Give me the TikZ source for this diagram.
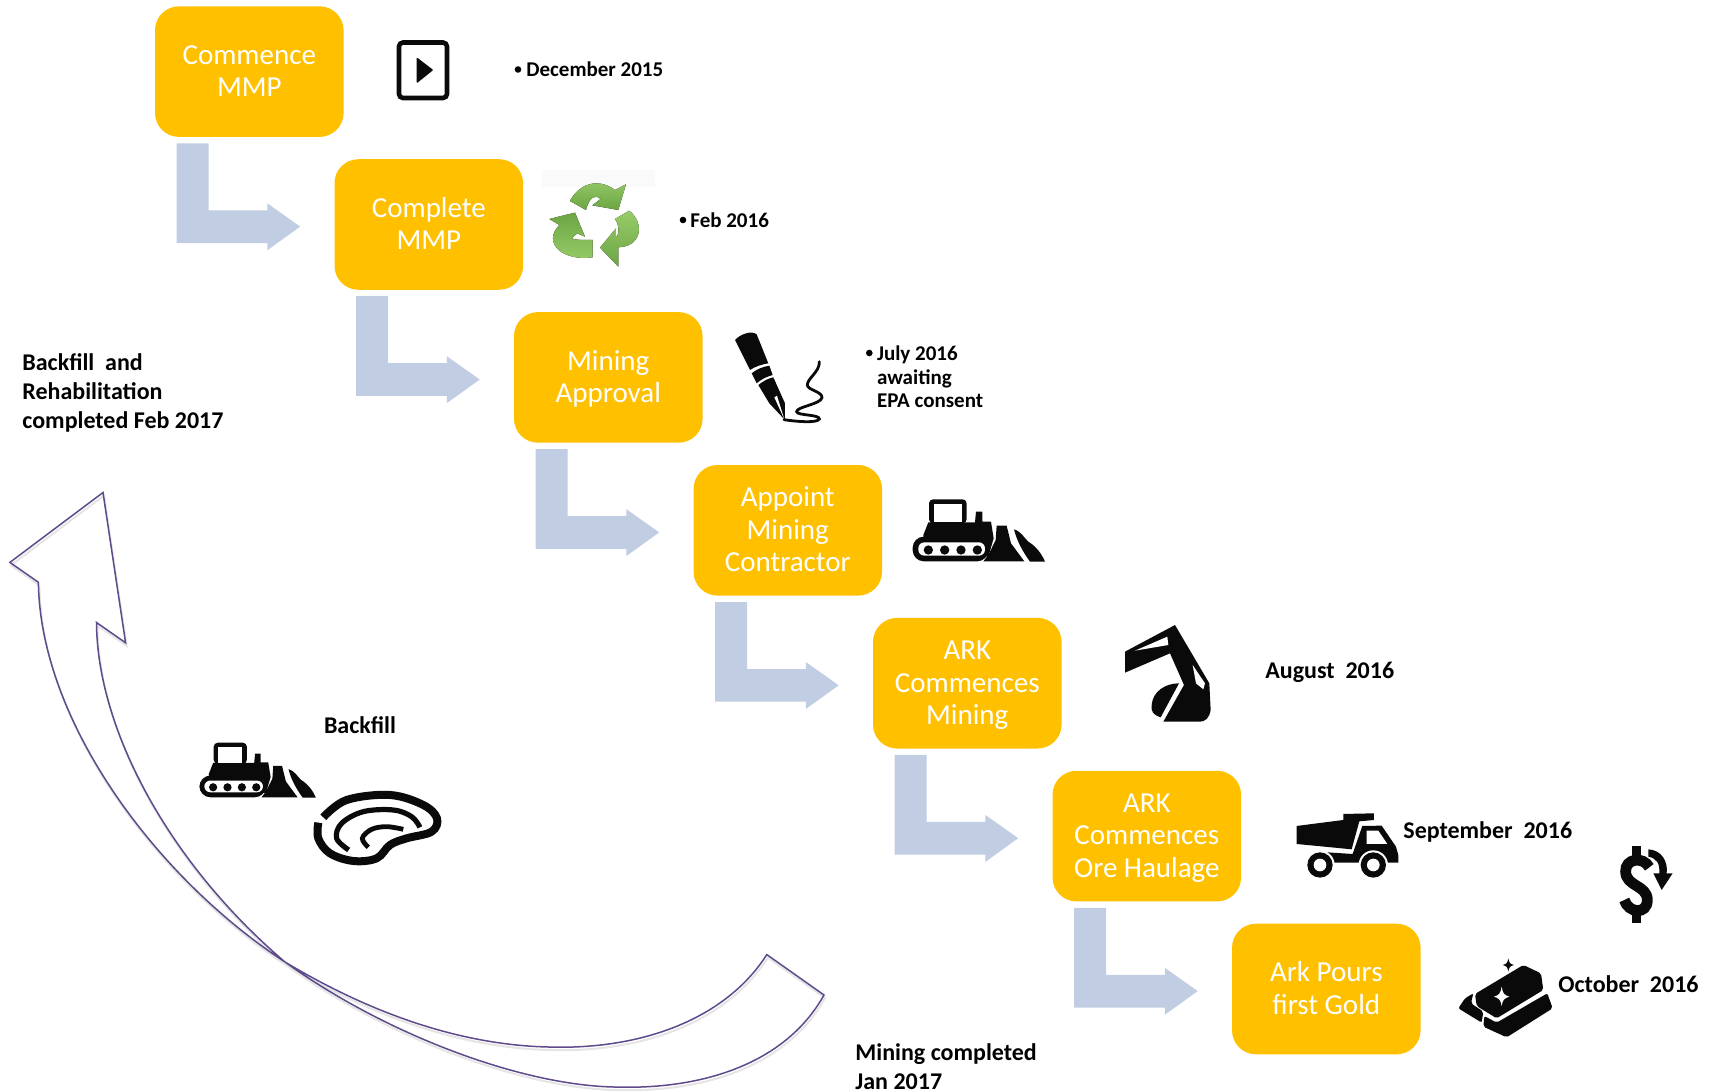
\documentclass[tikz,border=0pt]{standalone}
\usepackage{fontspec}
\setmainfont{Carlito}
\usetikzlibrary{calc}
\definecolor{boxfill}{HTML}{FFC000}
\definecolor{bentfill}{HTML}{C0CDE2}
\definecolor{curveline}{HTML}{5F4B8B}
\definecolor{recA}{HTML}{97CC68}
\definecolor{recB}{HTML}{6DA544}
\definecolor{iconblack}{HTML}{0A0A0A}
\tikzset{
  stepbox/.style={fill=boxfill,rounded corners=12pt,minimum width=94.3pt,minimum height=65.3pt,
    inner sep=0pt,align=center,text=white,font=\fontsize{14.5}{16.2}\selectfont},
  bent/.style={fill=bentfill,draw=none},
  lab/.style={inner sep=0pt,anchor=base west,font=\fontsize{12}{14.5}\bfseries\selectfont,align=left},
  labs/.style={inner sep=0pt,anchor=base west,font=\fontsize{10.5}{11.8}\bfseries\selectfont,align=left},
  bul/.style={circle,fill=black,inner sep=0pt,minimum size=3.3pt},
  ic/.style={fill=iconblack,draw=none},
  zm/.style n args={3}{shift={(#1,#2)},scale=#3},
}
\newcommand{\tl}{\rule{0pt}{11.8pt}}
\newcommand{\bl}{\rule[-3pt]{0pt}{3pt}}
\newcommand{\bentarrow}[1]{%
  \fill[bent,shift={(#1.south west)}] (22,6) -- (54,6) -- (54,73) -- (112.7,73) -- (112.7,66)
    -- (145.6,89.3) -- (112.7,113) -- (112.7,105.7) -- (22,105.7) -- cycle;}
\newcommand{\dozericon}[3]{%
  \begin{scope}[zm={#1}{#2}{#3}]
    \fill[ic] (55,135) -- (70,97) -- (210,97) -- (213,65) -- (232,65) -- (232,95) -- (258,95) -- (266,145) -- (250,200) -- (60,185) -- cycle;
    \fill[ic] (275,107) -- (305,107) -- (318,160) -- (358,214) -- (235,214) -- (250,195) -- (272,150) -- cycle;
    \fill[ic,rounded corners=2pt] (72,28) rectangle (185,100);
    \fill[white] (88,43) rectangle (170,97);
    \fill[ic] (327,118) .. controls (350,125) and (358,145) .. (370,155) .. controls (395,170) and (412,195) .. (420,215)
      -- (375,215) .. controls (350,180) and (335,150) .. (327,118) -- cycle;
    \fill[ic,rounded corners=5.6pt] (23,140) rectangle (250,214);
    \fill[white,rounded corners=3pt] (40,157) rectangle (240,197);
    \foreach \cx in {70,119,168,217} \fill[ic] (\cx,180) circle (14);
  \end{scope}}
\begin{document}
\begin{tikzpicture}[x=0.5pt,y=-0.5pt]
\useasboundingbox (0,0) rectangle (1721,1092);

% step boxes
\node[stepbox] (b1) at (249.3,71.6) {\tl Commence\\MMP\bl};
\node[stepbox] (b2) at (428.8,224.5) {\tl Complete\\MMP\bl};
\node[stepbox] (b3) at (608.3,377.4) {\tl Mining\\Approval\bl};
\node[stepbox] (b4) at (787.8,530.3) {\tl Appoint\\Mining\\Contractor\bl};
\node[stepbox] (b5) at (967.3,683.2) {\tl ARK\\Commences\\Mining\bl};
\node[stepbox] (b6) at (1146.8,836.1) {\tl ARK\\Commences\\Ore Haulage\bl};
\node[stepbox] (b7) at (1326.3,989.0) {\tl Ark Pours\\first Gold\bl};

% bent arrows
\bentarrow{b1}\bentarrow{b2}\bentarrow{b3}\bentarrow{b4}\bentarrow{b5}\bentarrow{b6}

% curved return arrow (twisted): soft shadow, then outline
\def\curvepath{(766.8,954.6) -- (824,995) .. controls (785,1065) and (700,1090) .. (614,1087) .. controls (520,1085) and (385,1034) .. (285,962)
  .. controls (170,864) and (97,730) .. (96.5,622.5)
  -- (125.6,642.8) -- (103,492.5) -- (9.9,562.4) -- (38.4,582.3)
  .. controls (40,720) and (155,877) .. (285,962) .. controls (370,1013) and (460,1045) .. (548.5,1047) .. controls (640,1050) and (725,1020) .. (766.8,954.6)}
\draw[black!10,line width=1pt,shift={(1,3)}] \curvepath;
\draw[curveline,line width=0.75pt,line join=miter] \curvepath -- cycle;

% play icon
\draw[iconblack,line width=2.3pt,rounded corners=2pt] (399,42.5) rectangle (447,98);
\fill[iconblack,rounded corners=0.5pt] (416.7,57.3) -- (433.3,70) -- (416.7,83.3) -- cycle;

% recycle icon
\begin{scope}[zm={370}{20}{0.3333}]
  \fill[black!2] (517,450) rectangle (855,500);
  \fill[top color=recA,bottom color=recB] (600,543) .. controls (625,495) and (680,470) .. (735,510) -- (768,493) -- (745,570) -- (667,556) -- (692,537) .. controls (680,525) and (660,525) .. (648,570) -- cycle;
  \fill[top color=recB,bottom color=recA] (538,597) -- (615,578) -- (645,650) -- (622,640) -- (605,655) .. controls (612,660) and (640,660) .. (668,660) -- (668,712) .. controls (580,725) and (515,670) .. (568,615) -- cycle;
  \fill[top color=recA,bottom color=recB] (778,572) .. controls (825,610) and (815,680) .. (745,682) -- (745,740) -- (690,683) -- (738,625) -- (738,650) .. controls (745,650) and (752,620) .. (735,597) -- cycle;
\end{scope}

% pen icon
\begin{scope}[zm={730}{325}{0.3333}]
  \fill[ic] (15,45) .. controls (30,28) and (65,15) .. (80,28) -- (115,115) .. controls (95,118) and (75,125) .. (60,135) -- cycle;
  \fill[ic] (65,145) .. controls (80,132) and (100,125) .. (118,122) -- (128,150) .. controls (110,155) and (95,162) .. (80,175) -- cycle;
  \fill[ic] (85,180) .. controls (100,168) and (115,160) .. (130,157) -- (165,235) -- (165,285) -- (118,235) -- cycle;
  \fill[white] (133,217) -- (141,212) -- (163,283) -- cycle;
  \draw[iconblack,line width=1.4pt,line cap=round] (268,110) .. controls (270,140) and (232,160) .. (232,180) .. controls (232,195) and (278,200) .. (276,218) .. controls (272,238) and (200,245) .. (200,260) .. controls (200,272) and (270,268) .. (268,282) .. controls (262,295) and (200,290) .. (162,284);
\end{scope}

% bulldozers
\dozericon{905}{490}{0.3333}
\dozericon{192.6}{734.5}{0.2933}

% excavator
\begin{scope}[zm={1110}{620}{0.3333}]
  \fill[ic] (45,95) -- (195,15) -- (298,190) -- (302,270) .. controls (298,295) and (285,305) .. (270,305) -- (160,305) -- (222,195) -- (180,100) -- (45,158) -- cycle;
  \fill[white] (75,92) -- (172,50) -- (175,75) -- cycle;
  \fill[white] (248,135) -- (285,190) -- (280,208) -- (258,190) -- cycle;
  \fill[ic] (125,255) .. controls (128,215) and (165,190) .. (207,190) -- (152,292) .. controls (130,285) and (122,275) .. (125,255) -- cycle;
\end{scope}

% dump truck
\begin{scope}[zm={1110}{620}{0.3333}]
  \fill[ic] (560,618) -- (700,600) -- (700,582) -- (792,580) -- (792,600) -- (748,604) -- (725,688) -- (560,672) -- cycle;
  \fill[ic] (620,695) -- (728,702) -- (757,618) -- (815,617) -- (858,680) -- (865,705) -- (865,728) -- (590,728) -- cycle;
  \fill[white] (770,632) -- (805,632) -- (832,672) -- (770,672) -- cycle;
  \fill[white] (630,735) circle (44) (790,735) circle (44);
  \fill[ic] (630,735) circle (38) (790,735) circle (38);
  \fill[white] (630,735) circle (19) (790,735) circle (19);
\end{scope}

% dollar icon
\begin{scope}[zm={1440}{830}{0.3333}]
  \draw[iconblack,line width=5.4pt] (628,112) .. controls (610,78) and (555,85) .. (557,125) .. controls (558,170) and (622,165) .. (622,210) .. controls (622,255) and (565,250) .. (553,210);
  \fill[ic] (576,48) rectangle (604,85);
  \fill[ic] (576,245) rectangle (604,278);
  \fill[ic] (625,58) .. controls (665,60) and (685,95) .. (680,130) -- (698,130) -- (665,180) -- (640,130) -- (658,130) .. controls (660,100) and (650,85) .. (625,80) -- cycle;
\end{scope}

% gold bars icon
\begin{scope}[zm={1440}{830}{0.3333}]
  \fill[ic,rounded corners=1pt] (105,492) -- (250,405) -- (303,430) -- (310,480) -- (170,565) -- (110,528) -- cycle;
  \fill[ic,rounded corners=1pt] (133,558) -- (170,578) -- (322,490) -- (338,535) -- (200,622) -- (130,590) -- cycle;
  \fill[ic,rounded corners=1pt] (55,535) -- (75,505) -- (100,490) -- (93,520) -- (130,545) -- (125,578) -- cycle;
  \fill[white] (185,470) .. controls (188,490) and (192,495) .. (208,500) .. controls (192,505) and (188,510) .. (185,528) .. controls (182,510) and (178,505) .. (162,500) .. controls (178,495) and (182,490) .. (185,470) -- cycle;
  \fill[ic] (205,385) .. controls (207,398) and (210,402) .. (222,405) .. controls (210,408) and (207,412) .. (205,425) .. controls (203,412) and (200,408) .. (188,405) .. controls (200,402) and (203,398) .. (205,385) -- cycle;
\end{scope}

% strata icon
\begin{scope}[zm={190}{730}{0.3333}]
  \draw[iconblack,line width=4pt,line cap=butt] plot[smooth,tension=.6] coordinates {(400,262) (470,210) (600,195) (700,225) (741,265) (725,305) (650,325) (600,345) (560,385) (490,393) (420,370) (385,325) (385,278)};
  \draw[iconblack,line width=2.6pt] plot[smooth,tension=.6] coordinates {(476,360) (440,325) (455,280) (520,245) (610,240) (665,260) (690,292)};
  \draw[iconblack,line width=2.4pt] plot[smooth,tension=.6] coordinates {(535,352) (517,325) (545,298) (590,290) (640,298)};
\end{scope}

% labels
\node[bul] (d1) at (518,69.5) {};
\node[labs] (t1) at (526,76.5) {December 2015};
\node[bul] (d2) at (683,220) {};
\node[labs] (t2) at (690,227) {Feb 2016};
\node[bul] (d3) at (869.3,353) {};
\node[labs,anchor=west] (t3) at (876.7,377) {July 2016\\awaiting\\EPA consent};
\node[lab,anchor=west] (t4) at (22,392.7) {Backfill~ and\\Rehabilitation\\completed Feb 2017};
\node[lab] (t5) at (323.6,733.5) {Backfill};
\node[lab] (t6) at (1265,678.7) {August~ 2016};
\node[lab] (t7) at (1403,838.8) {September~ 2016};
\node[lab] (t8) at (1558,992.7) {October~ 2016};
\node[lab,anchor=west] (t9) at (855,1066.5) {Mining completed\\Jan 2017};
\end{tikzpicture}
\end{document}
